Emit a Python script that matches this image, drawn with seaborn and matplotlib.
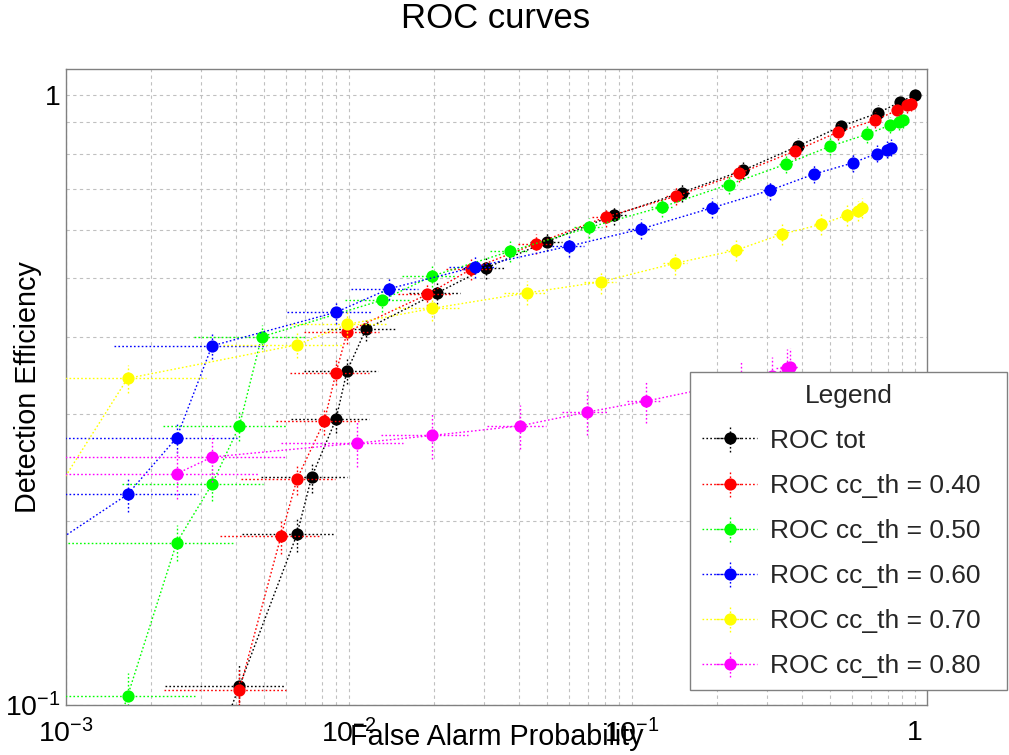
import numpy as np
import pandas as pd
import matplotlib
matplotlib.use("Agg")
import matplotlib.pyplot as plt
from matplotlib.ticker import LogLocator, NullFormatter
from matplotlib.legend_handler import HandlerTuple
import seaborn as sns

# ---------------------------------------------------------------------------
# ROC curves: false alarm probability vs detection efficiency
# ---------------------------------------------------------------------------
SERIES_NAMES = ["ROC tot", "ROC cc_th = 0.40", "ROC cc_th = 0.50",
                "ROC cc_th = 0.60", "ROC cc_th = 0.70", "ROC cc_th = 0.80"]
SERIES_COLORS = ["#000000", "#ff0000", "#00ff00", "#0000ff", "#ffff00", "#ff00ff"]

tot_far = [0.00328, 0.0041, 0.00655, 0.00738, 0.0090, 0.00983, 0.01148, 0.0205,
           0.0304, 0.0500, 0.0864, 0.1498, 0.2473, 0.387, 0.548, 0.741, 0.885, 1.0]
tot_eff = [0.082, 0.1074, 0.1904, 0.2363, 0.294, 0.352, 0.4128, 0.4733,
           0.5195, 0.5745, 0.6344, 0.691, 0.7517, 0.8239, 0.8873, 0.933, 0.9725, 0.998]

th40_far = [0.0041, 0.0041, 0.00575, 0.00655, 0.00818, 0.0090, 0.00986, 0.0189, 0.0269,
            0.0458, 0.0809, 0.1431, 0.2393, 0.3767, 0.5358, 0.7224, 0.866, 0.935, 0.9656]
th40_eff = [0.080, 0.1058, 0.189, 0.2345, 0.2917, 0.3505, 0.4087, 0.4705, 0.517,
            0.570, 0.6303, 0.6815, 0.7425, 0.8084, 0.8686, 0.9078, 0.9426, 0.9605, 0.9668]

th50_far = [0.00082, 0.00165, 0.00246, 0.00328, 0.0041, 0.00491, 0.0131, 0.0196, 0.0371,
            0.0705, 0.1277, 0.2203, 0.349, 0.502, 0.6785, 0.816, 0.880, 0.909]
th50_eff = [0.0375, 0.1034, 0.1845, 0.230, 0.2866, 0.401, 0.4605, 0.504, 0.5538,
            0.6057, 0.6546, 0.7123, 0.769, 0.823, 0.861, 0.891, 0.902, 0.910]

th60_far = [0.0003, 0.00165, 0.00246, 0.00328, 0.0090, 0.01388, 0.0279, 0.0599,
            0.1073, 0.1912, 0.3074, 0.4407, 0.6025, 0.732, 0.798, 0.820]
th60_eff = [0.131, 0.2213, 0.274, 0.3876, 0.440, 0.4808, 0.522, 0.5645,
            0.602, 0.652, 0.697, 0.741, 0.7727, 0.8004, 0.8128, 0.819]

th70_far = [0.0003, 0.00165, 0.00655, 0.00986, 0.0197, 0.0427, 0.0777,
            0.1422, 0.2331, 0.3388, 0.4643, 0.574, 0.630, 0.651]
th70_eff = [0.0985, 0.3428, 0.389, 0.4203, 0.4464, 0.4733, 0.4934,
            0.5293, 0.5559, 0.5906, 0.6126, 0.6344, 0.645, 0.652]

th80_far = [0.00246, 0.00328, 0.01065, 0.0197, 0.0402, 0.0692, 0.112,
            0.2427, 0.3124, 0.352, 0.362]
th80_eff = [0.2392, 0.2548, 0.2685, 0.2764, 0.2866, 0.3018, 0.3146,
            0.339, 0.3456, 0.3563, 0.358]

# counting statistics behind each curve (noise trials, injected signals)
NOISE_TRIALS = [1190, 1150, 1130, 1010, 750, 440]
SIGNAL_TRIALS = [1300, 1250, 1200, 1150, 1080, 500]

FAR = [tot_far, th40_far, th50_far, th60_far, th70_far, th80_far]
EFF = [tot_eff, th40_eff, th50_eff, th60_eff, th70_eff, th80_eff]

# ---------------------------------------------------------------------------
sns.set_theme(style="white")
plt.rcParams["font.family"] = ["Liberation Sans", "DejaVu Sans"]
plt.rcParams["mathtext.fontset"] = "custom"
plt.rcParams["mathtext.rm"] = "Liberation Sans"
plt.rcParams["mathtext.it"] = "Liberation Sans:italic"
plt.rcParams["mathtext.bf"] = "Liberation Sans:bold"

W, H = 1009, 755
fig = plt.figure(figsize=(W / 100, H / 100), dpi=100)
fig.patch.set_facecolor("white")
x0, x1, y0, y1 = 66, 926.7, 69.3, 705
ax = fig.add_axes([x0 / W, 1 - y1 / H, (x1 - x0) / W, (y1 - y0) / H])
ax.set_facecolor("white")
ax.set_xscale("log")
ax.set_yscale("log")

dotted = (0, (1.2, 1.6))
handles = []
for i, (name, color, fx, fy, nn, ns) in enumerate(
        zip(SERIES_NAMES, SERIES_COLORS, FAR, EFF, NOISE_TRIALS, SIGNAL_TRIALS)):
    fx = np.asarray(fx, float)
    fy = np.asarray(fy, float)
    xerr = np.sqrt(fx / nn)
    yerr = np.sqrt(fy / ns)
    xerr_lo = np.minimum(xerr, fx * 0.999)
    eb = ax.errorbar(fx, fy, xerr=[xerr_lo, xerr], yerr=yerr, fmt="none",
                     ecolor=color, elinewidth=1.0, capsize=0, zorder=3 + 2 * i)
    for coll in eb[2]:
        coll.set_linestyle(dotted)
    df = pd.DataFrame({"far": fx, "eff": fy})
    sns.lineplot(data=df, x="far", y="eff", sort=False, estimator=None,
                 errorbar=None, color=color, marker="o", markersize=8.8,
                 markeredgewidth=0, linestyle=dotted, linewidth=1.0,
                 ax=ax, zorder=4 + 2 * i, legend=False)
    handles.append((eb, ax.lines[-1]))

ax.set_xlim(1e-3, 1.1)
ax.set_ylim(0.1, 1.1)

ax.set_xticks([1e-3, 1e-2, 1e-1, 1])
ax.set_xticklabels([r"$10^{-3}$", r"$10^{-2}$", r"$10^{-1}$", "1"])
ax.set_yticks([0.1, 1])
ax.set_yticklabels([r"$10^{-1}$", "1"])
ax.xaxis.set_minor_locator(LogLocator(base=10, subs=np.arange(2, 10), numticks=20))
ax.yaxis.set_minor_locator(LogLocator(base=10, subs=np.arange(2, 10), numticks=20))
ax.xaxis.set_minor_formatter(NullFormatter())
ax.yaxis.set_minor_formatter(NullFormatter())

ax.grid(True, which="both", color="#c0c0c0", linestyle=(0, (3, 3)), linewidth=0.8)
ax.set_axisbelow(True)

frame_color = "#808080"
for side in ["left", "bottom", "right", "top"]:
    ax.spines[side].set_color(frame_color)
    ax.spines[side].set_linewidth(1.0)
ax.tick_params(axis="both", which="both", direction="in", top=False, right=False,
               color=frame_color, width=1.0, labelsize=20.5, labelcolor="black")
ax.tick_params(axis="x", which="major", length=13.7, pad=10.5)
ax.tick_params(axis="x", which="minor", length=6.8)
ax.tick_params(axis="y", which="major", length=18.7, pad=4)
ax.tick_params(axis="y", which="minor", length=9.4)

ax.set_xlabel("False Alarm Probability", fontsize=20.7, color="black")
ax.xaxis.label.set_va("center")
ax.xaxis.set_label_coords(0.5, -(737 - y1) / (y1 - y0))
ax.set_ylabel("Detection Efficiency", fontsize=20.7, color="black")
ax.yaxis.label.set_va("center")
ax.yaxis.set_label_coords(-(x0 - 28) / (x1 - x0), 0.5)

fig.text(495.5 / W, 1 - 18 / H, "ROC curves", ha="center", va="center",
         fontsize=25, color="black")

leg = ax.legend(handles, SERIES_NAMES, title="Legend", loc="upper left",
                bbox_to_anchor=(690 / W, 1 - 371.7 / H, (1007 - 690) / W, 0),
                bbox_transform=fig.transFigure, mode="expand", borderaxespad=0,
                fontsize=19, title_fontsize=19, fancybox=False, shadow=False,
                framealpha=1, edgecolor=frame_color, borderpad=0.45,
                labelspacing=0.8, handlelength=2.1, handletextpad=0.5,
                handler_map={tuple: HandlerTuple(ndivide=1, pad=0)})
leg.get_frame().set_linewidth(1.0)
leg.set_zorder(50)

fig.savefig("out.png", dpi=100)
